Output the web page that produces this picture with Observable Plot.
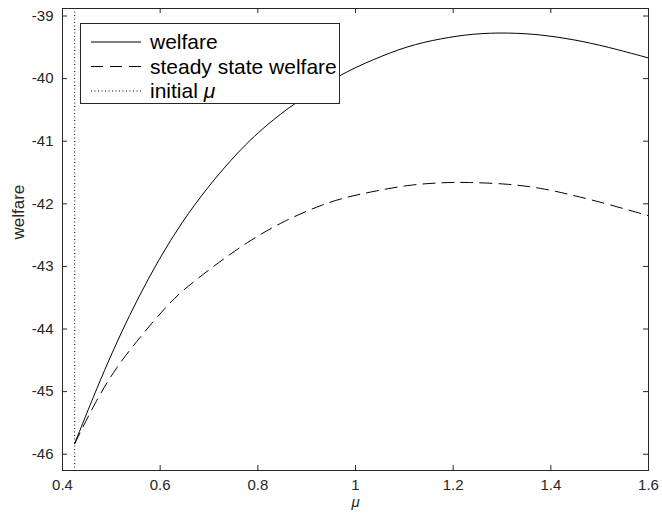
<!DOCTYPE html>
<html><head><meta charset="utf-8">
<script src="https://cdn.jsdelivr.net/npm/d3@7"></script>
<script src="https://cdn.jsdelivr.net/npm/@observablehq/plot@0.6"></script>
<style>
html,body{margin:0;padding:0;background:#fff;}
#chart{width:662px;height:519px;}
</style></head><body><div id="chart"></div>
<script>
// ---- data ----
const welfareMu  = [0.425, 0.4846, 0.553, 0.6417, 0.7508, 0.8192, 0.8737, 0.969, 1.0375, 1.106, 1.174, 1.242, 1.311, 1.379, 1.447, 1.515, 1.6];
const welfareVal = [-45.83, -44.66, -43.50, -42.27, -41.22, -40.73, -40.40, -39.93, -39.69, -39.48, -39.36, -39.28, -39.265, -39.295, -39.375, -39.49, -39.67];
const steadyMu   = [0.425, 0.4682, 0.509, 0.5638, 0.6115, 0.6417, 0.7066, 0.778, 0.8532, 0.9351, 0.983, 1.0375, 1.106, 1.174, 1.229, 1.311, 1.379, 1.447, 1.515, 1.6];
const steadyVal  = [-45.83, -45.15, -44.62, -44.08, -43.65, -43.41, -43.01, -42.61, -42.27, -42.00, -41.89, -41.80, -41.70, -41.66, -41.655, -41.68, -41.745, -41.865, -42.00, -42.19];
const initialMu  = 0.425;
const xTicks = [0.4, 0.6, 0.8, 1, 1.2, 1.4, 1.6];
const yTicks = [-46, -45, -44, -43, -42, -41, -40, -39];
const xDomain = [0.4, 1.6];
const yDomain = [-46.26, -38.88];
const xLabel = "μ";
const yLabel = "welfare";
const legendLabels = ["welfare", "steady state welfare", "initial "];
const legendMath = ["", "", "μ"];

const welfare = welfareMu.map((m, i) => ({mu: m, w: welfareVal[i]}));
const steady  = steadyMu.map((m, i) => ({mu: m, w: steadyVal[i]}));

const axisColor = "#262626";
const font = "'Liberation Sans', Arial, Helvetica, sans-serif";
const fmt = d => String(d);

const W = 662, H = 519, mL = 62, mR = 14, mT = 8, mB = 49;
const frameW = W - mL - mR, frameH = H - mT - mB, tick = 5;

const svg = Plot.plot({
  width: W,
  height: H,
  marginLeft: mL,
  marginRight: mR,
  marginTop: mT,
  marginBottom: mB,
  style: {fontFamily: font, fontSize: "15px", color: axisColor, background: "#fff"},
  x: {domain: xDomain},
  y: {domain: yDomain},
  marks: [
    // tick labels (outside)
    Plot.axisX({anchor: "bottom", ticks: xTicks, tickFormat: fmt, tickSize: 0, tickPadding: 9, label: null}),
    Plot.axisY({anchor: "left", ticks: yTicks, tickFormat: fmt, tickSize: 0, tickPadding: 9, label: null}),
    // inward tick marks on all four sides
    Plot.ruleX(xTicks, {x: d => d, insetTop: frameH - tick, stroke: axisColor}),
    Plot.ruleX(xTicks, {x: d => d, insetBottom: frameH - tick, stroke: axisColor}),
    Plot.ruleY(yTicks, {y: d => d, insetRight: frameW - tick, stroke: axisColor}),
    Plot.ruleY(yTicks, {y: d => d, insetLeft: frameW - tick, stroke: axisColor}),
    Plot.ruleX([initialMu], {stroke: "#000", strokeWidth: 1, strokeDasharray: "1,2.5"}),
    Plot.line(steady, {x: "mu", y: "w", stroke: "#000", strokeWidth: 1, strokeDasharray: "12,7", curve: "basis"}),
    Plot.line(welfare, {x: "mu", y: "w", stroke: "#000", strokeWidth: 1, curve: "basis"}),
    Plot.frame({stroke: axisColor, strokeWidth: 1}),
    Plot.text([xLabel], {text: d => d, frameAnchor: "bottom", dy: 36, fontStyle: "italic", fontSize: 15, fill: axisColor}),
    Plot.text([yLabel], {text: d => d, frameAnchor: "left", dx: -44, rotate: -90, fontSize: 17, fill: axisColor})
  ]
});

document.getElementById("chart").appendChild(svg);

// ---- legend (MATLAB-style box inside the axes) ----
const lg = d3.select(svg).append("g").attr("class", "legend").attr("text-anchor", "start");
const bx = 80.5, by = 23.5, bw = 259, bh = 80;
lg.append("rect").attr("x", bx).attr("y", by).attr("width", bw).attr("height", bh)
  .attr("fill", "#fff").attr("stroke", axisColor).attr("stroke-width", 1);
const dashes = [null, "12,7", "1,2.5"];
const rowY = [42, 66.5, 91];
legendLabels.forEach((lab, i) => {
  const y = rowY[i];
  const ln = lg.append("line").attr("x1", 91).attr("x2", 141).attr("y1", y).attr("y2", y)
    .attr("stroke", "#000").attr("stroke-width", 1);
  if (dashes[i]) ln.attr("stroke-dasharray", dashes[i]);
  const t = lg.append("text").attr("x", 150).attr("y", y + 7).attr("text-anchor", "start")
    .attr("font-family", font).attr("font-size", 21).attr("fill", "#000").text(lab);
  if (legendMath[i]) t.append("tspan").attr("font-style", "italic").text(legendMath[i]);
});
</script>
</body></html>
